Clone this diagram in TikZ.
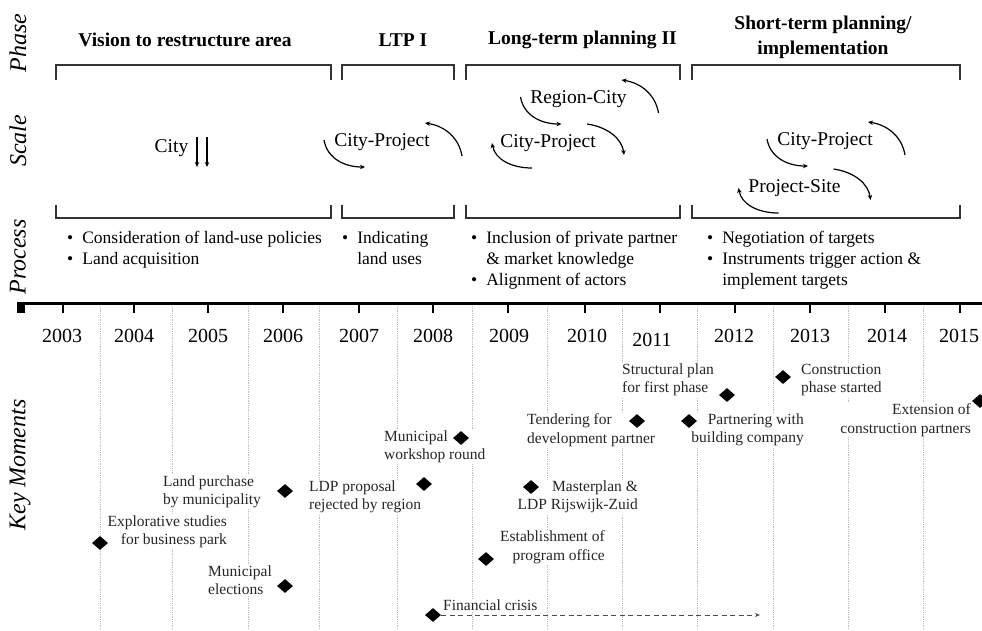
\documentclass[tikz,border=0pt]{standalone}
\usepackage{fontspec}
\setmainfont{Liberation Serif}
\usetikzlibrary{shapes.geometric,arrows.meta}

\begin{document}
\begin{tikzpicture}[x=1pt,y=-1pt]
	\colorlet{bracket edge}{black!80}
	\colorlet{grid line}{black!25}
	\tikzset{
		phase/.style={font=\fontsize{19.5}{25}\selectfont\bfseries, align=center, inner sep=0pt},
		side/.style={font=\fontsize{24}{28}\selectfont\itshape, rotate=90, inner sep=0pt},
		level/.style={font=\fontsize{19.5}{23}\selectfont, inner sep=0pt, anchor=base},
		proc/.style={font=\fontsize{17.5}{21}\selectfont, inner sep=0pt, anchor=base west},
		yearlbl/.style={font=\fontsize{20}{24}\selectfont, inner sep=0pt, anchor=base},
		moment/.style={diamond, fill=black, inner sep=0pt, minimum width=16pt, minimum height=14pt},
		momtext/.style={font=\fontsize{15.5}{18.5}\selectfont, fill=white, inner sep=1pt, text=black!85},
		cycle/.style={line width=1.2pt, -{Stealth[length=5pt,width=4.5pt]}},
		bracket/.style={draw=bracket edge, line width=1.2pt},
		crisisline/.style={black!70, line width=1pt, dash pattern=on 5pt off 3.5pt, -{Stealth[length=5pt,width=4pt]}}
	}
	\useasboundingbox (0,0) rectangle (982,630);
	\def\arcleftA{(-58,-6) .. controls (-55,12) and (-38,21) .. (-17,21)}
	\def\arcrightA{(80,10) .. controls (77,-8) and (63,-20) .. (43,-23)}
	\def\arcleftB{(-16,21) .. controls (-37,21) and (-53,12) .. (-56,-4)}
	\def\arcrightB{(39,-23) .. controls (60,-20) and (74,-8) .. (76,8)}
	% side labels
	\node[side] (phaselbl) at (18,43) {Phase};
	\node[side] (scalelbl) at (18,141) {Scale};
	\node[side] (proclbl) at (18,257) {Process};
	\node[side] (keylbl) at (20,465) {Key Moments};
	% phases
	\node[phase, anchor=base] (ph1) at (185,46) {Vision to restructure area};
	\node[phase, anchor=base] (ph2) at (403,46) {LTP I};
	\node[phase, anchor=base] (ph3) at (582.5,44) {Long-term planning II};
	\node[phase] (ph4) at (823,37) {Short-term planning/\\implementation};
	\foreach \a/\b in {56/331, 342/454, 466/680, 692/960} {
		\draw[bracket] (\a,80) -- (\a,65) -- (\b,65) -- (\b,80);
		\draw[bracket] (\a,205) -- (\a,218) -- (\b,218) -- (\b,205);
	}
	% scale
	\node[level] (city) at (171.5,152) {City};
	\node[level] (cp1) at (382,146) {City-Project};
	\node[level] (rc) at (578.5,103) {Region-City};
	\node[level] (cp2) at (548,147) {City-Project};
	\node[level] (cp3) at (825,145) {City-Project};
	\node[level] (ps) at (794.5,192) {Project-Site};
	\begin{scope}[shift={(city.base)}]
		\draw[cycle] (25.5,-15) -- (25.5,15);
		\draw[cycle] (35.5,-15) -- (35.5,15);
	\end{scope}
	\foreach \lvl in {cp1,rc,cp3} {
		\begin{scope}[shift={(\lvl.base)}]
			\draw[cycle] \arcleftA;
			\draw[cycle] \arcrightA;
		\end{scope}
	}
	\foreach \lvl in {cp2,ps} {
		\begin{scope}[shift={(\lvl.base)}]
			\draw[cycle] \arcleftB;
			\draw[cycle] \arcrightB;
		\end{scope}
	}
	% process
	\node[proc] (pr1) at (67,243) {\begin{tabular}[t]{@{}l@{\hspace{9pt}}l@{}}
		\textbullet & Consideration of land-use policies\\
		\textbullet & Land acquisition
	\end{tabular}};
	\node[proc] (pr2) at (342,243) {\begin{tabular}[t]{@{}l@{\hspace{9pt}}l@{}}
		\textbullet & Indicating\\
		& land uses
	\end{tabular}};
	\node[proc] (pr3) at (471,243) {\begin{tabular}[t]{@{}l@{\hspace{9pt}}l@{}}
		\textbullet & Inclusion of private partner\\
		& \& market knowledge\\
		\textbullet & Alignment of actors
	\end{tabular}};
	\node[proc] (pr4) at (707,243) {\begin{tabular}[t]{@{}l@{\hspace{9pt}}l@{}}
		\textbullet & Negotiation of targets\\
		\textbullet & Instruments trigger action \&\\
		& implement targets
	\end{tabular}};
	% time axis
	\foreach \gx in {100,172,248,319,397,472,547,622,697,773,848,923}
		\draw[grid line, densely dotted, line width=0.8pt] (\gx,306) -- (\gx,630);
	\draw[line width=3pt] (18,303) -- (982,303);
	\fill (17,301.5) rectangle (25,313);
	\foreach \tx in {63,134,208,283,359,433,508,585,660,735,810,885,960}
		\draw[line width=1.3pt] (\tx,303) -- (\tx,313);
	\foreach \yr/\lx/\ly in {2003/62/342, 2004/134/342, 2005/208/342, 2006/283/342, 2007/359/342, 2008/433/342, 2009/509/342, 2010/587/342, 2011/652/346, 2012/734/342, 2013/810/342, 2014/887/342, 2015/959/342}
		\node[yearlbl] (y\yr) at (\lx,\ly) {\yr};
	% key moments
	\node[momtext, align=right, anchor=east] (explor-t) at (228,532) {Explorative studies\\for business park};
	\node[momtext, align=left, anchor=west] (landbuy-t) at (162,492) {Land purchase\\by municipality};
	\node[momtext, align=left, anchor=west] (elect-t) at (207,580) {Municipal\\elections};
	\node[momtext, align=left, anchor=west] (ldpno-t) at (308,497) {LDP proposal\\rejected by region};
	\node[momtext, align=left, anchor=west] (workshop-t) at (383,447) {Municipal\\workshop round};
	\node[momtext, align=left, anchor=west] (crisis-t) at (442,605) {Financial crisis};
	\node[momtext, align=right, anchor=east] (progoff-t) at (606,547) {Establishment of\\program office};
	\node[momtext, align=right, anchor=east] (master-t) at (639,497) {Masterplan \&\\LDP Rijswijk-Zuid};
	\node[momtext, align=left, anchor=west] (tender-t) at (526,430) {Tendering for\\development partner};
	\node[momtext, align=right, anchor=east] (partner-t) at (805,430) {Partnering with\\building company};
	\node[momtext, align=left, anchor=west] (struct-t) at (621,380) {Structural plan\\for first phase};
	\node[momtext, align=left, anchor=west] (constr-t) at (800,380) {Construction\\phase started};
	\node[momtext, align=right, anchor=east] (extend-t) at (972,420) {Extension of\\construction partners};
	\node[moment] (explor) at (100,543) {};
	\node[moment] (landbuy) at (285,491) {};
	\node[moment] (elect) at (285,586) {};
	\node[moment] (ldpno) at (424,484) {};
	\node[moment] (workshop) at (461,438) {};
	\node[moment] (crisis) at (433,615) {};
	\node[moment] (progoff) at (486,559) {};
	\node[moment] (master) at (531,487) {};
	\node[moment] (tender) at (637,421) {};
	\node[moment] (partner) at (689,421) {};
	\node[moment] (struct) at (727,395) {};
	\node[moment] (constr) at (783,377) {};
	\node[moment] (extend) at (980,401) {};
	\coordinate (crisis-end) at (760,615);
	\draw[crisisline] (crisis.east) -- (crisis-end);
\end{tikzpicture}
\end{document}
